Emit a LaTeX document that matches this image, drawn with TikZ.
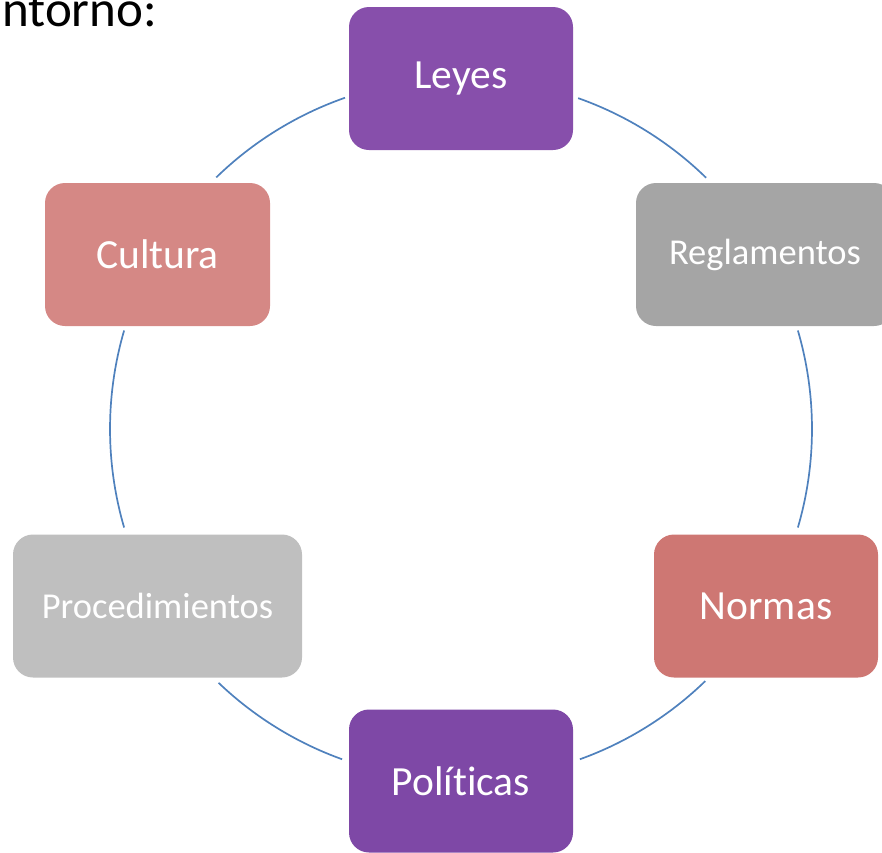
\documentclass[tikz,border=0pt]{standalone}
\usepackage{fontspec}
\setmainfont[Ligatures={NoCommon,NoRare}]{Carlito}
\definecolor{cLeyes}{HTML}{874FAB}
\definecolor{cPol}{HTML}{7E48A6}
\definecolor{cCult}{HTML}{D58885}
\definecolor{cNorm}{HTML}{CE7773}
\definecolor{cRegl}{HTML}{A5A5A5}
\definecolor{cProc}{HTML}{BFBFBF}
\definecolor{cLine}{HTML}{4F81BD}
\begin{document}
\begin{tikzpicture}[x=1pt,y=-1pt,
  box/.style={rectangle, rounded corners=20pt, inner sep=0pt, text=white, minimum height=143pt},
  big/.style={font=\fontsize{41.5}{41.5}\selectfont},
  small/.style={font=\fontsize{36.5}{36.5}\selectfont},
  ring/.style={draw=cLine, line width=1.7pt}]
\useasboundingbox (0,0) rectangle (882,852);
\clip (0,0) rectangle (882,852);
\coordinate (c) at (461,429);
\node[anchor=base west, inner sep=0pt, font=\fontsize{51}{51}\selectfont] (title) at (2,26) {ntorno:};
\node[box, fill=cLeyes, big, minimum width=224pt] (leyes) at (461,78.5) {Leyes};
\node[box, fill=cRegl, small, minimum width=258pt] (regl) at (765,254.5) {Reglamentos};
\node[box, fill=cNorm, big, minimum width=224pt] (normas) at (766,606) {Normas};
\node[box, fill=cPol, big, minimum width=224pt] (pol) at (461,781) {Políticas};
\node[box, fill=cProc, small, minimum width=289pt] (proc) at (157.5,606) {Procedimientos};
\node[box, fill=cCult, big, minimum width=225pt] (cult) at (157.5,254.5) {Cultura};
% ring arcs (y axis points down, so angles are mirrored)
\foreach \a/\b in {-70.5/-45.7, -16.3/16.3, 45.9/70.2, 109.8/133.7, 163.7/196.3, 225.8/250.7}{
  \draw[ring] (c) ++(\a:351) arc[start angle=\a, end angle=\b, radius=351];
}
\end{tikzpicture}
\end{document}
